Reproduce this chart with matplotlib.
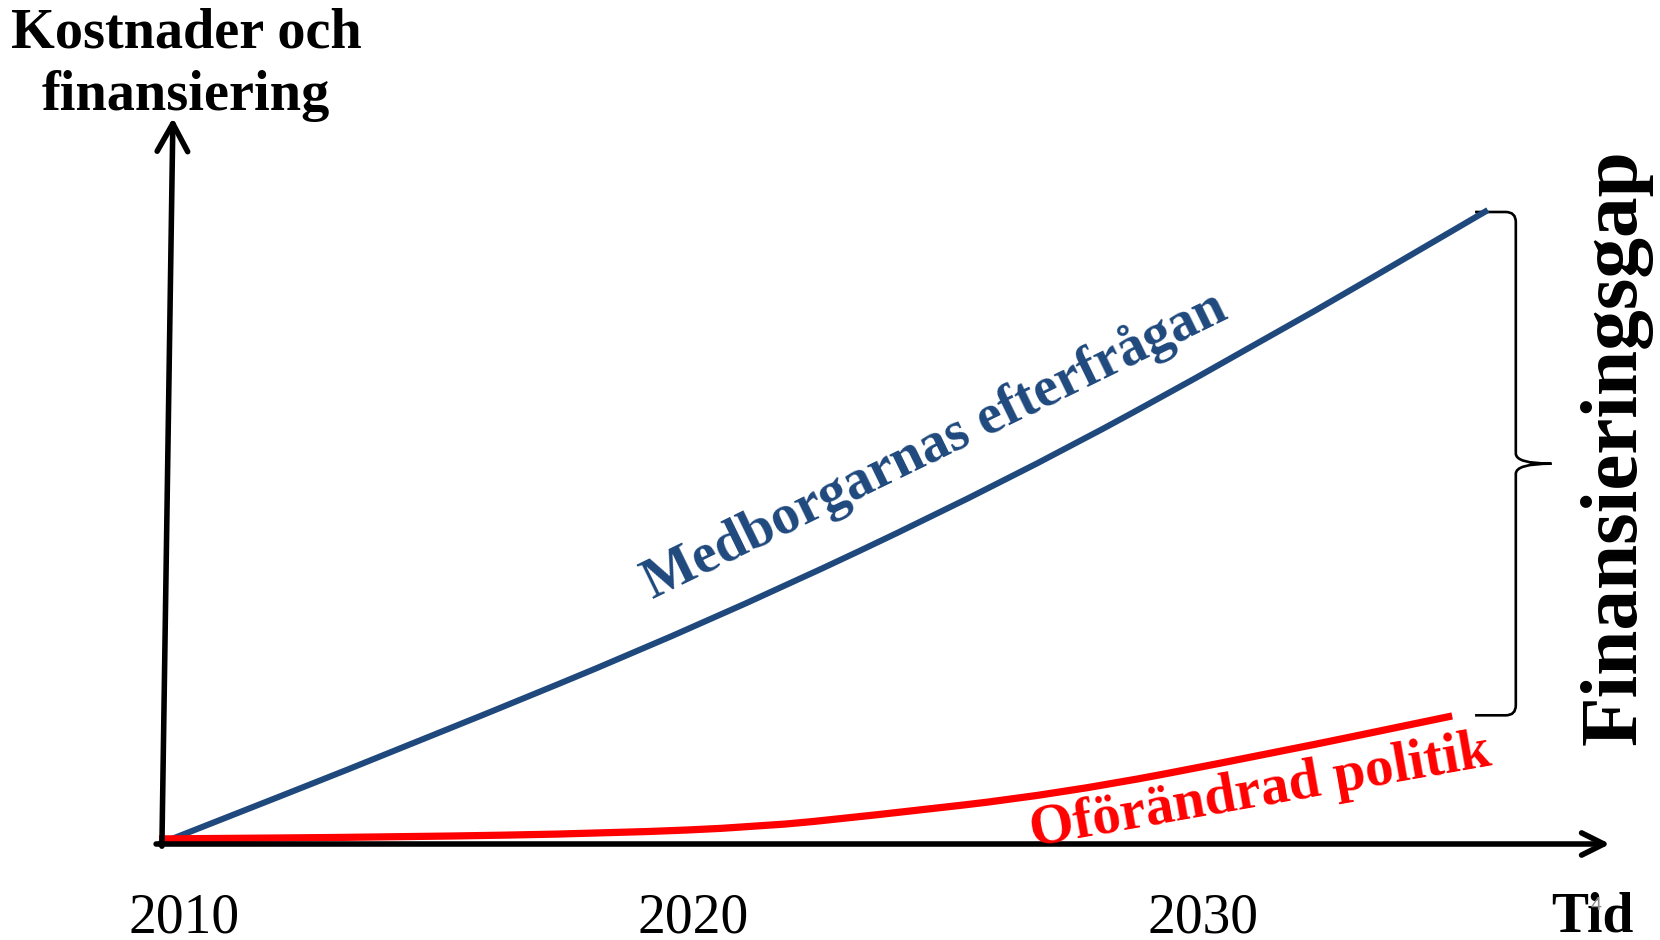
import matplotlib
matplotlib.use("Agg")
import matplotlib.pyplot as plt
from matplotlib.path import Path
from matplotlib.patches import PathPatch

# values (x = year, y = cost index, blue end = 100)
demand_years = [2009.5, 2014.4, 2020.3, 2026.2, 2031.1, 2035.6]
demand_vals = [0.0, 15.5, 35.0, 57.4, 78.9, 100.0]
policy_years = [2009.5, 2014.2, 2018.4, 2021.3, 2023.4, 2027.2, 2031.3, 2034.9]
policy_vals = [0.8, 1.1, 1.7, 2.7, 4.4, 7.9, 14.2, 20.2]
tick_years = [2010, 2020, 2030]
tick_labels = ["2010", "2020", "2030"]

BLUE = "#1F497D"
RED = "#FF0000"
W, H = 1660, 940

plt.rcParams["font.family"] = ["Liberation Serif", "DejaVu Serif"]

fig = plt.figure(figsize=(16.6, 9.4), dpi=100)


def fx(px):
    return px / W


def fy(py):
    return 1 - py / H


def smooth_path(xs, ys):
    # quadratic b-spline through the read points, the slide's lines are smooth
    pts = list(zip(xs, ys))
    verts = [pts[0]]
    codes = [Path.MOVETO]
    mids = [((a[0] + b[0]) / 2, (a[1] + b[1]) / 2) for a, b in zip(pts[:-1], pts[1:])]
    verts.append(mids[0])
    codes.append(Path.LINETO)
    for i in range(1, len(pts) - 1):
        verts += [pts[i], mids[i]]
        codes += [Path.CURVE3, Path.CURVE3]
    verts.append(pts[-1])
    codes.append(Path.LINETO)
    return Path(verts, codes)


# axes placed so that y=0 sits on the drawn x-axis
ax = fig.add_axes([fx(159), fy(844), 1451 / W, 729 / H])
ax.set_xlim(2009.5, 2038.0)
ax.set_ylim(0, 115)
for s in ax.spines.values():
    s.set_visible(False)
ax.set_yticks([])
ax.set_xticks(tick_years)
ax.set_xticklabels(tick_labels, fontsize=40)
ax.tick_params(axis="x", length=0, pad=35)

ax.add_patch(PathPatch(smooth_path(demand_years, demand_vals), fill=False, color=BLUE, lw=4.4,
                       capstyle="butt", clip_on=False, zorder=3))
ax.add_patch(PathPatch(smooth_path(policy_years, policy_vals), fill=False, color=RED, lw=5.2,
                       capstyle="butt", clip_on=False, zorder=3))

# axis arrows
ax.annotate("", xy=(1.0, 0.0), xytext=(-0.002, 0.0), xycoords="axes fraction",
            arrowprops=dict(arrowstyle="->,head_length=0.8,head_width=0.4", lw=4.0,
                            color="black", mutation_scale=20, shrinkA=0, shrinkB=0))
ax.annotate("", xy=(0.0096, 0.996), xytext=(0.002, -0.003), xycoords="axes fraction",
            arrowprops=dict(arrowstyle="->,head_length=1.0,head_width=0.55", lw=4.0,
                            color="black", mutation_scale=20, shrinkA=0, shrinkB=0))

# curly brace between the two end values
top = demand_vals[-1] - 0.3
bot = policy_vals[-1] + 0.1
mid = (top + bot) / 2
xb, xl, xt = 2036.15, 2035.35, 2036.85
rx, ry = 0.2, 1.6
verts = [(xl, top), (xb - rx, top), (xb, top), (xb, top - ry),
         (xb, mid + ry), (xb, mid), (xt, mid),
         (xb, mid), (xb, mid - ry),
         (xb, bot + ry), (xb, bot), (xb - rx, bot), (xl, bot)]
codes = [Path.MOVETO, Path.LINETO, Path.CURVE3, Path.CURVE3,
         Path.LINETO, Path.CURVE3, Path.CURVE3,
         Path.CURVE3, Path.CURVE3,
         Path.LINETO, Path.CURVE3, Path.CURVE3, Path.LINETO]
ax.add_patch(PathPatch(Path(verts, codes), fill=False, lw=1.9, color="black", clip_on=False))

# texts
fig.text(fx(186), fy(47), "Kostnader och", ha="center", va="baseline", fontsize=40.5, fontweight="bold")
fig.text(fx(186), fy(110), "finansiering", ha="center", va="baseline", fontsize=40.5, fontweight="bold")
fig.text(fx(1592), fy(932), "Tid", ha="center", va="baseline", fontsize=40, fontweight="bold")
fig.text(fx(1596), fy(905), "4", ha="center", va="center", fontsize=14, color="#8c8c8c",
         family=["Liberation Sans", "DejaVu Sans"])
fig.text(fx(1636), fy(447), "Finansieringsgap", rotation=90, rotation_mode="anchor",
         ha="center", va="baseline", fontsize=58.5, fontweight="bold")
fig.text(fx(935), fy(446), "Medborgarnas efterfrågan", rotation=26, rotation_mode="anchor",
         ha="center", va="center", fontsize=40.5, fontweight="bold", color=BLUE)
fig.text(fx(1260), fy(792), "Oförändrad politik", rotation=10, rotation_mode="anchor",
         ha="center", va="center", fontsize=41, fontweight="bold", color=RED)

fig.savefig("out.png", dpi=100)
